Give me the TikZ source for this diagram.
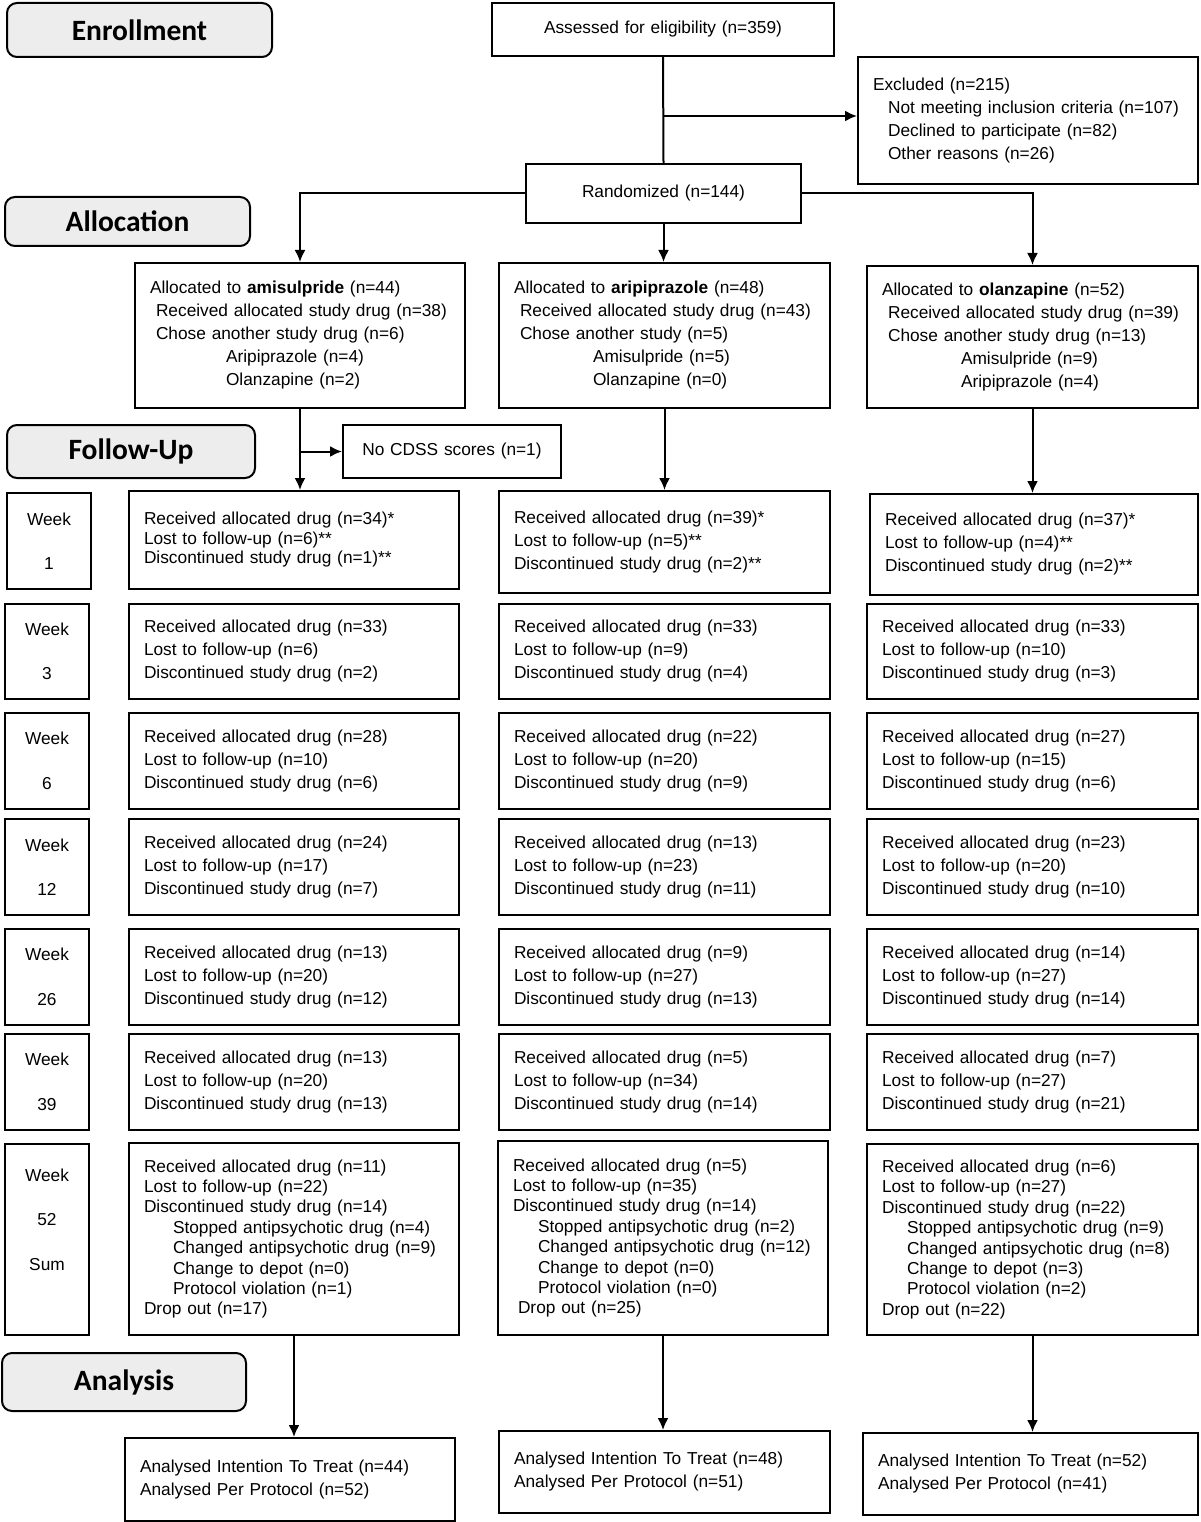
\documentclass[tikz,border=0pt]{standalone}
\usepackage{fontspec}
\setmainfont{Liberation Sans}
\newfontfamily\headfont{Carlito}
\usetikzlibrary{arrows.meta,positioning}
\definecolor{stagegray}{HTML}{EDEDED}

\tikzset{
	stage/.style={draw, line width=2pt, rounded corners=10pt, fill=stagegray, anchor=north west, align=center, inner sep=0pt, font=\headfont\bfseries\fontsize{29.5}{31}\selectfont},
	box/.style={draw, line width=2pt, anchor=north west, align=left, inner xsep=15pt, inner ysep=0pt, font=\fontsize{17.3}{23}\selectfont},
	week/.style={draw, line width=2pt, anchor=north west, align=center, inner sep=0pt, minimum width=84pt, font=\fontsize{17.3}{44.5}\selectfont},
	arr/.style={line width=2pt, -{Latex[length=12pt,width=11pt]}}
}

\begin{document}
\begin{tikzpicture}[x=1pt, y=-1pt]
	\useasboundingbox (0,0) rectangle (1200,1522);

	\node (enrol) [stage, minimum width=265pt, minimum height=54pt] at (6,2) {Enrollment};
	\node (alloc) [stage, minimum width=245pt, minimum height=49pt] at (4,196) {Allocation};
	\node (follow) [stage, minimum width=248pt, minimum height=53pt] at (6,424) {Follow-Up};
	\node (analysis) [stage, minimum width=244pt, minimum height=58pt] at (1,1352) {Analysis};

	\node (assess) [box, align=center, text width=312pt, minimum height=53pt] at (491,2) {Assessed for eligibility (n=359)};
	\node (excl) [box, text width=310pt, minimum height=127pt] at (857,56) {Excluded (n=215)\\\hspace*{15pt}Not meeting inclusion criteria (n=107)\\\hspace*{15pt}Declined to participate (n=82)\\\hspace*{15pt}Other reasons (n=26)};
	\node (rand) [box, align=center, text width=245pt, minimum height=59pt] at (525,163) {Randomized (n=144)};
	\coordinate (exbr) at (663,116);
	\draw[line width=2pt] (assess.south) -- (rand.north);
	\draw[arr] (exbr) -- (exbr -| excl.west);

	\node (allA) [box, text width=300pt, minimum height=145pt] at (134,262) {Allocated to \textbf{amisulpride} (n=44)\\\hspace*{6pt}Received allocated study drug (n=38)\\\hspace*{6pt}Chose another study drug (n=6)\\\hspace*{76pt}Aripiprazole (n=4)\\\hspace*{76pt}Olanzapine (n=2)};
	\node (allB) [box, text width=301pt, minimum height=145pt] at (498,262) {Allocated to \textbf{aripiprazole} (n=48)\\\hspace*{6pt}Received allocated study drug (n=43)\\\hspace*{6pt}Chose another study (n=5)\\\hspace*{79pt}Amisulpride (n=5)\\\hspace*{79pt}Olanzapine (n=0)};
	\node (allC) [box, text width=301pt, minimum height=142pt] at (866,265) {Allocated to \textbf{olanzapine} (n=52)\\\hspace*{6pt}Received allocated study drug (n=39)\\\hspace*{6pt}Chose another study drug (n=13)\\\hspace*{79pt}Amisulpride (n=9)\\\hspace*{79pt}Aripiprazole (n=4)};
	\draw[arr] (rand.west) -| (allA.north);
	\draw[arr] (rand.south) -- (rand.south |- allB.north);
	\draw[arr] (rand.east) -| (allC.north);

	\node (nocdss) [box, align=center, text width=188pt, minimum height=53pt] at (342,424) {No CDSS scores (n=1)};

	\node (wk1) [week, minimum width=84pt, minimum height=96pt] at (6,492) {Week\\1};
	\node (wk3) [week, minimum height=95pt] at (4,603) {Week\\3};
	\node (wk6) [week, minimum height=96pt] at (4,712) {Week\\6};
	\node (wk12) [week, minimum height=96pt] at (4,818) {Week\\12};
	\node (wk26) [week, minimum height=96pt] at (4,928) {Week\\26};
	\node (wk39) [week, minimum height=96pt] at (4,1033) {Week\\39};
	\node (wk52) [week, minimum height=191pt] at (4,1143) {Week\\52\\Sum\\[-4pt]\mbox{}};

	\node (w1A) [box, text width=300pt, minimum height=98pt, font=\fontsize{17.3}{19.5}\selectfont] at (128,490) {Received allocated drug (n=34)*\\Lost to follow-up (n=6)**\\Discontinued study drug (n=1)**};
	\node (w3A) [box, text width=300pt, minimum height=95pt] at (128,603) {Received allocated drug (n=33)\\Lost to follow-up (n=6)\\Discontinued study drug (n=2)};
	\node (w6A) [box, text width=300pt, minimum height=96pt] at (128,712) {Received allocated drug (n=28)\\Lost to follow-up (n=10)\\Discontinued study drug (n=6)};
	\node (w12A) [box, text width=300pt, minimum height=96pt] at (128,818) {Received allocated drug (n=24)\\Lost to follow-up (n=17)\\Discontinued study drug (n=7)};
	\node (w26A) [box, text width=300pt, minimum height=96pt] at (128,928) {Received allocated drug (n=13)\\Lost to follow-up (n=20)\\Discontinued study drug (n=12)};
	\node (w39A) [box, text width=300pt, minimum height=96pt] at (128,1033) {Received allocated drug (n=13)\\Lost to follow-up (n=20)\\Discontinued study drug (n=13)};
	\node (w52A) [box, text width=300pt, minimum height=192pt, font=\fontsize{17.3}{20.4}\selectfont] at (128,1142) {Received allocated drug (n=11)\\Lost to follow-up (n=22)\\Discontinued study drug (n=14)\\\hspace*{29pt}Stopped antipsychotic drug (n=4)\\\hspace*{29pt}Changed antipsychotic drug (n=9)\\\hspace*{29pt}Change to depot (n=0)\\\hspace*{29pt}Protocol violation (n=1)\\Drop out (n=17)};

	\node (w1B) [box, text width=301pt, minimum height=102pt] at (498,490) {Received allocated drug (n=39)*\\Lost to follow-up (n=5)**\\Discontinued study drug (n=2)**};
	\node (w3B) [box, text width=301pt, minimum height=95pt] at (498,603) {Received allocated drug (n=33)\\Lost to follow-up (n=9)\\Discontinued study drug (n=4)};
	\node (w6B) [box, text width=301pt, minimum height=96pt] at (498,712) {Received allocated drug (n=22)\\Lost to follow-up (n=20)\\Discontinued study drug (n=9)};
	\node (w12B) [box, text width=301pt, minimum height=96pt] at (498,818) {Received allocated drug (n=13)\\Lost to follow-up (n=23)\\Discontinued study drug (n=11)};
	\node (w26B) [box, text width=301pt, minimum height=96pt] at (498,928) {Received allocated drug (n=9)\\Lost to follow-up (n=27)\\Discontinued study drug (n=13)};
	\node (w39B) [box, text width=301pt, minimum height=96pt] at (498,1033) {Received allocated drug (n=5)\\Lost to follow-up (n=34)\\Discontinued study drug (n=14)};
	\node (w52B) [box, text width=300pt, minimum height=194pt, font=\fontsize{17.3}{20.4}\selectfont] at (497,1140) {Received allocated drug (n=5)\\Lost to follow-up (n=35)\\Discontinued study drug (n=14)\\\hspace*{25pt}Stopped antipsychotic drug (n=2)\\\hspace*{25pt}Changed antipsychotic drug (n=12)\\\hspace*{25pt}Change to depot (n=0)\\\hspace*{25pt}Protocol violation (n=0)\\\hspace*{5pt}Drop out (n=25)};

	\node (w1C) [box, text width=298pt, minimum height=101pt] at (869,493) {Received allocated drug (n=37)*\\Lost to follow-up (n=4)**\\Discontinued study drug (n=2)**};
	\node (w3C) [box, text width=301pt, minimum height=95pt] at (866,603) {Received allocated drug (n=33)\\Lost to follow-up (n=10)\\Discontinued study drug (n=3)};
	\node (w6C) [box, text width=301pt, minimum height=96pt] at (866,712) {Received allocated drug (n=27)\\Lost to follow-up (n=15)\\Discontinued study drug (n=6)};
	\node (w12C) [box, text width=301pt, minimum height=96pt] at (866,818) {Received allocated drug (n=23)\\Lost to follow-up (n=20)\\Discontinued study drug (n=10)};
	\node (w26C) [box, text width=301pt, minimum height=96pt] at (866,928) {Received allocated drug (n=14)\\Lost to follow-up (n=27)\\Discontinued study drug (n=14)};
	\node (w39C) [box, text width=301pt, minimum height=96pt] at (866,1033) {Received allocated drug (n=7)\\Lost to follow-up (n=27)\\Discontinued study drug (n=21)};
	\node (w52C) [box, text width=301pt, minimum height=191pt, font=\fontsize{17.3}{20.4}\selectfont] at (866,1143) {Received allocated drug (n=6)\\Lost to follow-up (n=27)\\Discontinued study drug (n=22)\\\hspace*{25pt}Stopped antipsychotic drug (n=9)\\\hspace*{25pt}Changed antipsychotic drug (n=8)\\\hspace*{25pt}Change to depot (n=3)\\\hspace*{25pt}Protocol violation (n=2)\\Drop out (n=22)};

	\draw[arr] (allA.south) -- (allA.south |- w1A.north);
	\draw[arr] (allA.south |- nocdss.west) -- (nocdss.west);
	\draw[arr] (allB.south) -- (allB.south |- w1B.north);
	\draw[arr] (allC.south) -- (allC.south |- w1C.north);

	\node (anA) [box, text width=300pt, minimum height=83pt] at (124,1437) {Analysed Intention To Treat (n=44)\\Analysed Per Protocol (n=52)};
	\node (anB) [box, text width=301pt, minimum height=82pt] at (498,1430) {Analysed Intention To Treat (n=48)\\Analysed Per Protocol (n=51)};
	\node (anC) [box, text width=305pt, minimum height=82pt] at (862,1432) {Analysed Intention To Treat (n=52)\\Analysed Per Protocol (n=41)};
	\draw[arr] (w52A.south) -- (w52A.south |- anA.north);
	\draw[arr] (w52B.south) -- (w52B.south |- anB.north);
	\draw[arr] (w52C.south) -- (w52C.south |- anC.north);
\end{tikzpicture}
\end{document}
